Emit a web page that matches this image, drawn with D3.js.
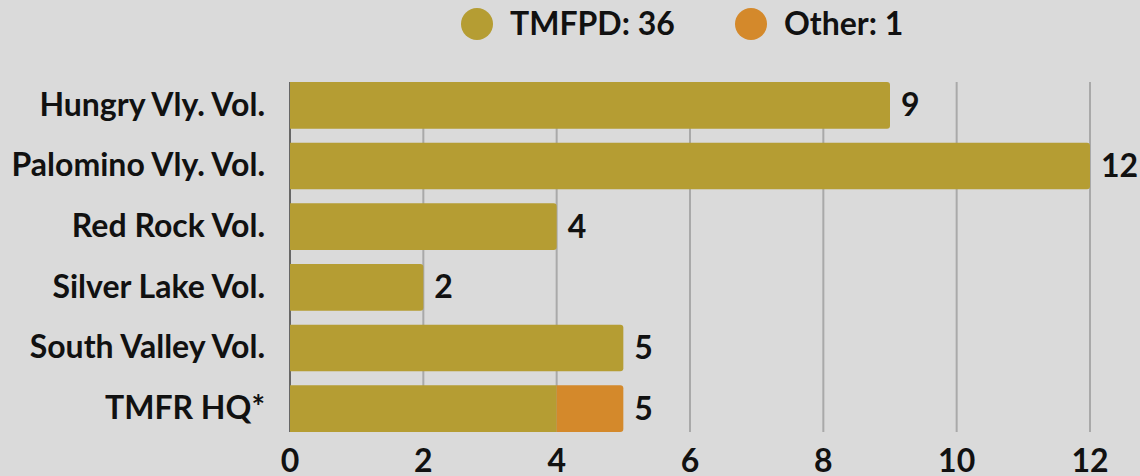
<!DOCTYPE html>
<html><head><meta charset="utf-8">
<script src="https://cdn.jsdelivr.net/npm/d3@7"></script>
<style>
html,body{margin:0;padding:0;background:#dadada;}
svg{display:block;font-family:Lato,"Open Sans",sans-serif;font-weight:700;}
</style></head>
<body>
<svg id="chart" width="1140" height="476"></svg>
<script>
const categories = ["Hungry Vly. Vol.","Palomino Vly. Vol.","Red Rock Vol.","Silver Lake Vol.","South Valley Vol.","TMFR HQ*"];
const tmfpd = [9,12,4,2,5,4];
const other = [0,0,0,0,0,1];
const seriesNames = ["TMFPD","Other"];
const seriesColors = ["#b59d33","#d4892b"];
const xTicks = [0,2,4,6,8,10,12];

const svg = d3.select("#chart");
const x = d3.scaleLinear().domain([0,12]).range([290,1090]);
const y = d3.scaleBand().domain(categories).range([82,432]).paddingInner(0.23).paddingOuter(0);

// gridlines
svg.append("g").selectAll("line").data(xTicks).join("line")
  .attr("x1",d=>x(d)).attr("x2",d=>x(d))
  .attr("y1",82).attr("y2",432)
  .attr("stroke",d=>d===0?"#666":"#a9a9a9").attr("stroke-width",2);

const rows = categories.map((c,i)=>({c, a:tmfpd[i], b:other[i]}));
const r = 3;
function barPath(x0,x1,y0,h,roundRight){
  const p = d3.path();
  const rr = roundRight?r:0;
  p.moveTo(x0,y0);
  p.lineTo(x1-rr,y0);
  if(rr) p.arcTo(x1,y0,x1,y0+rr,rr);
  p.lineTo(x1,y0+h-rr);
  if(rr) p.arcTo(x1,y0+h,x1-rr,y0+h,rr);
  p.lineTo(x0,y0+h);
  p.closePath();
  return p.toString();
}
const g = svg.append("g");
rows.forEach(d=>{
  g.append("path").attr("d",barPath(x(0),x(d.a),y(d.c),y.bandwidth(),d.b===0)).attr("fill",seriesColors[0]);
  if(d.b>0) g.append("path").attr("d",barPath(x(d.a),x(d.a+d.b),y(d.c),y.bandwidth(),true)).attr("fill",seriesColors[1]);
});

// value labels
svg.append("g").selectAll("text").data(rows).join("text")
  .attr("x",d=>x(d.a+d.b)+11).attr("y",d=>y(d.c)+y.bandwidth()/2)
  .attr("dy","0.34em").attr("font-size",32).attr("fill","#111")
  .text(d=>d.a+d.b);

// category labels
svg.append("g").selectAll("text").data(categories).join("text")
  .attr("x",265).attr("y",d=>y(d)+y.bandwidth()/2)
  .attr("dy","0.32em").attr("text-anchor","end").attr("font-size",32).attr("fill","#111")
  .text(d=>d);

// x tick labels
svg.append("g").selectAll("text").data(xTicks).join("text")
  .attr("x",d=>x(d)).attr("y",472)
  .attr("text-anchor","middle").attr("font-size",32).attr("fill","#111")
  .text(d=>d);

// legend
const totals = [d3.sum(tmfpd), d3.sum(other)];
const legendX = [477,751];
const lg = svg.append("g");
seriesNames.forEach((n,i)=>{
  lg.append("circle").attr("cx",legendX[i]).attr("cy",24).attr("r",16).attr("fill",seriesColors[i]);
  lg.append("text").attr("x",legendX[i]+33).attr("y",24).attr("dy","0.35em")
    .attr("font-size",32).attr("fill","#111").text(n+": "+totals[i]);
});
</script>
</body></html>
